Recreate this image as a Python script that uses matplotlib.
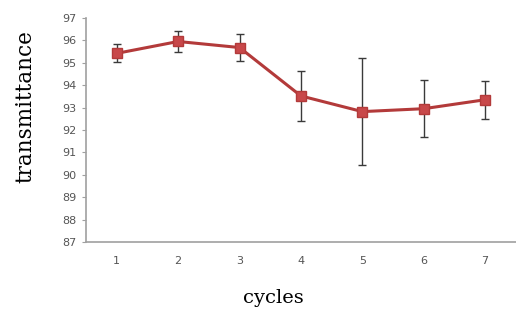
import numpy as np
import matplotlib.pyplot as plt

cycles = [1, 2, 3, 4, 5, 6, 7]
transmittance = [95.42, 95.95, 95.68, 93.52, 92.82, 92.95, 93.35]
errors = [0.4, 0.45, 0.62, 1.12, 2.4, 1.26, 0.85]
yticks = list(range(87, 98))

fig = plt.figure(figsize=(5.16, 3.12), dpi=100)
ax = fig.add_axes([0.1667, 0.2244, 0.833, 0.718])

ax.errorbar(cycles, transmittance, yerr=errors, fmt='none', ecolor='#3a3a3a',
            elinewidth=1.0, capsize=3, capthick=1.0, zorder=2)
ax.plot(cycles, transmittance, '-', color='#b33a3a', linewidth=2.2, zorder=3)
ax.plot(cycles, transmittance, 's', color='#c8484a', markersize=7,
        markeredgecolor='#b33a3a', zorder=4)

ax.set_xlim(0.5, 7.5)
ax.set_ylim(87, 97)
ax.set_yticks(yticks)
ax.set_xticks(cycles)

for s in ['top', 'right']:
    ax.spines[s].set_visible(False)
for s in ['left', 'bottom']:
    ax.spines[s].set_color('#a0a0a0')
    ax.spines[s].set_linewidth(1.2)

ax.tick_params(axis='y', labelsize=8, colors='#a0a0a0', labelcolor='#555555', length=3, pad=4)
ax.tick_params(axis='x', labelsize=8, length=0, labelcolor='#555555', pad=10)

ax.set_ylabel('transmittance', fontsize=15.5, family='DejaVu Serif')
ax.set_xlabel('cycles', fontsize=14, family='DejaVu Serif')
ax.yaxis.set_label_coords(-0.142, 0.603)
ax.xaxis.set_label_coords(0.435, -0.25)
ax.xaxis.label.set_va('center')
ax.yaxis.label.set_va('center')

fig.savefig('out.png', dpi=100)
